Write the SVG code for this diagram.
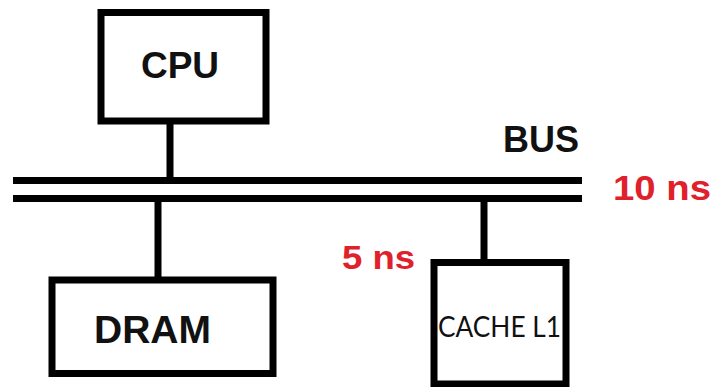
<svg xmlns="http://www.w3.org/2000/svg" width="716" height="387" viewBox="0 0 716 387">
  <style>
    .box { fill: #ffffff; stroke: #000000; stroke-width: 7; }
    .wire { stroke: #000000; stroke-width: 7; fill: none; }
    .lbl { font-family: "Liberation Sans", Arial, sans-serif; font-weight: bold; fill: #111111; }
    .red { font-family: "Liberation Sans", Arial, sans-serif; font-weight: bold; fill: #e0202a; }
    .small { font-family: "Lato", "Liberation Sans", sans-serif; fill: #111111; }
  </style>
  <rect width="716" height="387" fill="#ffffff"/>
  <g id="connectors">
    <line class="wire" x1="13" y1="180.5" x2="582" y2="180.5"/>
    <line class="wire" x1="13" y1="198.5" x2="582" y2="198.5"/>
    <line class="wire" x1="170" y1="121" x2="170" y2="178"/>
    <line class="wire" x1="158" y1="201" x2="158" y2="279"/>
    <line class="wire" x1="484" y1="201" x2="484" y2="262"/>
  </g>
  <g id="cpu">
    <rect class="box" x="101" y="12.5" width="165" height="108.5"/>
    <text class="lbl" x="180" y="78" font-size="37" text-anchor="middle">CPU</text>
  </g>
  <g id="dram">
    <rect class="box" x="52" y="280" width="221" height="93.5"/>
    <text class="lbl" x="152.5" y="343" font-size="39" text-anchor="middle">DRAM</text>
  </g>
  <g id="cache">
    <rect class="box" x="434" y="262.5" width="132" height="121.5"/>
    <text class="small" x="438" y="337" font-size="28" textLength="123" lengthAdjust="spacingAndGlyphs">CACHE L1</text>
  </g>
  <g id="labels">
    <text class="lbl" x="503" y="152" font-size="36">BUS</text>
    <text class="red" x="613" y="200" font-size="35" textLength="98" lengthAdjust="spacingAndGlyphs">10 ns</text>
    <text class="red" x="342" y="269" font-size="34" textLength="73" lengthAdjust="spacingAndGlyphs">5 ns</text>
  </g>
</svg>
